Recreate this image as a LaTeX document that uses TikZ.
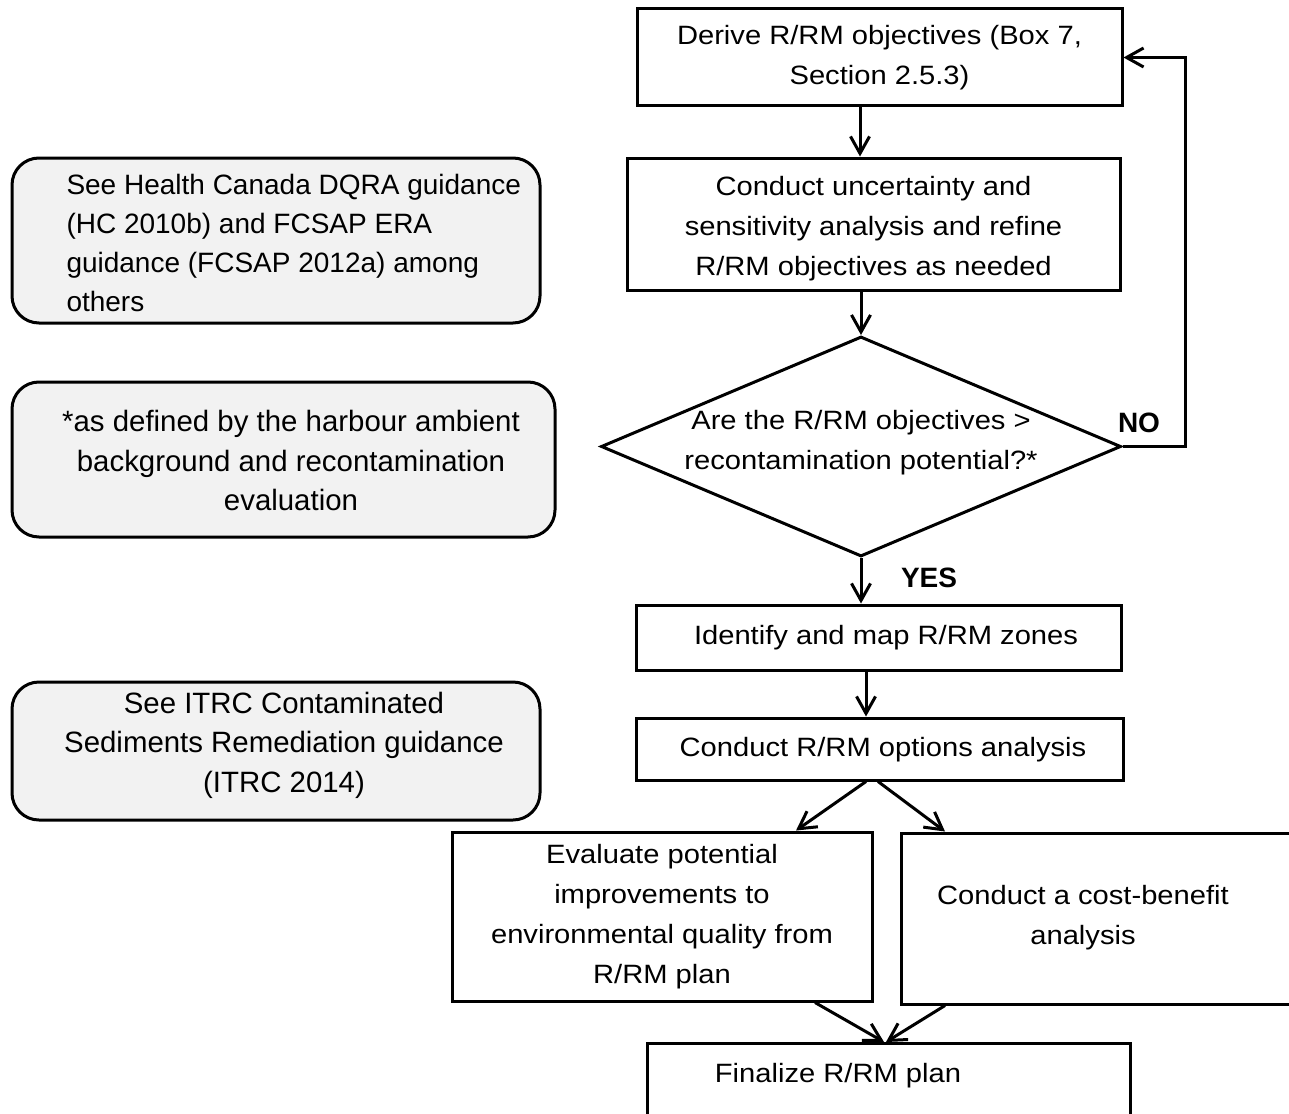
\documentclass[tikz,border=0pt]{standalone}
\usepackage{fontspec}
\setmainfont{Liberation Sans}
\newfontfamily\stepfont[FakeStretch=1.1]{Liberation Sans}
\usetikzlibrary{arrows.meta,shapes.geometric}
\definecolor{notegray}{HTML}{F2F2F2}

\begin{document}
\begin{tikzpicture}[x=1pt,y=-1pt,line width=3pt,
  stepbox/.style={draw,rectangle,inner sep=0pt,align=center,
    font=\stepfont\fontsize{26.5}{40}\selectfont},
  steptext/.style={inner sep=0pt,align=center,
    font=\stepfont\fontsize{26.5}{40}\selectfont},
  note/.style={draw,fill=notegray,rounded corners=27pt},
  notetext/.style={inner sep=0pt,font=\fontsize{28}{39}\selectfont},
  notetextwide/.style={inner sep=0pt,font=\fontsize{29.4}{39.5}\selectfont},
  arr/.style={-{Straight Barb[length=17pt,width=19pt]}},
  lbl/.style={inner sep=0pt,font=\bfseries\fontsize{28}{30}\selectfont}]

\useasboundingbox (0,0) rectangle (1289,1113);

% ---- side notes ----
\draw[note] (12,158) rectangle (540,323);
\node[notetext,anchor=west,align=left] (n1) at (65,242.5)
  {See Health Canada DQRA guidance\\(HC 2010b) and FCSAP ERA\\guidance (FCSAP 2012a) among\\others};

\draw[note] (12,382) rectangle (555,537);
\node[notetextwide,align=center] (n2) at (291,460.5)
  {*as defined by the harbour ambient\\background and recontamination\\evaluation};

\draw[note] (12,682) rectangle (540,820);
\node[notetextwide,align=center] (n3) at (284,745)
  {See ITRC Contaminated\\Sediments Remediation guidance\\(ITRC 2014)};

% ---- main flow ----
\node[stepbox,minimum width=485pt,minimum height=97pt] (d1) at (879.5,57.5)
  {Derive R/RM objectives (Box 7,\\Section 2.5.3)};
\node[stepbox,minimum width=493pt,minimum height=132pt] (d2) at (873.5,224) {};
\node[steptext] (d2t) at (873.5,229)
  {Conduct uncertainty and\\sensitivity analysis and refine\\R/RM objectives as needed};
\node[draw,diamond,inner sep=0pt,minimum width=520pt,minimum height=220pt] (q) at (861,446.5) {};
\node[steptext] (qt) at (861,442.5)
  {Are the R/RM objectives >\\recontamination potential?*};
\node[stepbox,minimum width=485pt,minimum height=65pt] (d3) at (878.5,637.5) {};
\node[steptext] (d3t) at (886,638) {Identify and map R/RM zones};
\node[stepbox,minimum width=487pt,minimum height=62pt] (d4) at (879.5,749) {};
\node[steptext] (d4t) at (883,750) {Conduct R/RM options analysis};
\node[stepbox,minimum width=420pt,minimum height=169pt] (d5) at (662,916.5)
  {Evaluate potential\\improvements to\\environmental quality from\\R/RM plan};
\node[stepbox,minimum width=394pt,minimum height=171pt] (d6) at (1098,918.5) {};
\node[steptext] (d6t) at (1083,918) {Conduct a cost-benefit\\analysis};
\node[stepbox,minimum width=483pt,minimum height=90pt,anchor=north] (d7) at (888.5,1042) {};
\node[steptext] (d7t) at (838,1076) {Finalize R/RM plan};

% ---- labels ----
\node[lbl] (no) at (1139,423) {NO};
\node[lbl] (yes) at (929,578) {YES};

% ---- connectors ----
\draw[arr] (860,0 |- d1.south) -- (860,0 |- d2.north);
\draw[arr] (q.north |- d2.south) -- (q.north);
\draw[arr] (q.south) -- (q.south |- d3.north);
\draw[arr] (866,0 |- d3.south) -- (866,0 |- d4.north);
\draw[arr] (866,0 |- d4.south) -- (796,0 |- d5.north);
\draw[arr] (878,0 |- d4.south) -- (945,0 |- d6.north);
\draw[arr] (815,0 |- d5.south) -- (884,0 |- d7.north);
\draw[arr] (945,0 |- d6.south) -- (886,0 |- d7.north);
\draw[arr] (q.east) -- ++(63,0) |- (d1.east);
\end{tikzpicture}
\end{document}
